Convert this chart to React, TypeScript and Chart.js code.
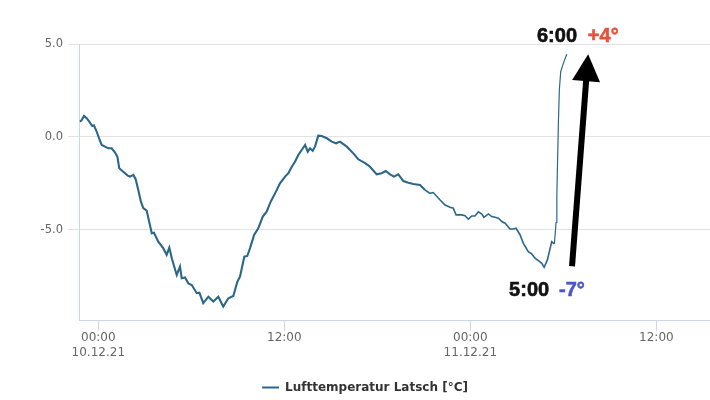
import React, { useEffect, useRef } from "react";
import { Chart, registerables } from "chart.js";

Chart.register(...registerables);

// ---- data ----
const seriesName = "Lufttemperatur Latsch [°C]";
// hours since 10.12.21 00:00
const sampleHours = [
  -1.18, -1.07, -0.92, -0.75, -0.54, -0.39, -0.28, -0.1, 0.05, 0.22, 0.43, 0.65, 0.86, 1.08, 1.23, 1.35,
  1.61, 1.9, 2.05, 2.26, 2.41, 2.58, 2.75, 2.9, 3.12, 3.45, 3.59, 3.87, 4.19, 4.41, 4.58, 4.74, 5.06,
  5.27, 5.38, 5.59, 5.81, 6.03, 6.35, 6.52, 6.77, 7.1, 7.42, 7.74, 8.06, 8.39, 8.71, 8.97, 9.14, 9.42,
  9.61, 9.79, 10.05, 10.32, 10.61, 10.86, 11.12, 11.46, 11.72, 12.05, 12.26, 12.48, 12.69, 12.9, 13.12,
  13.34, 13.51, 13.66, 13.83, 13.98, 14.19, 14.41, 14.74, 15.06, 15.34, 15.59, 16.03, 16.45, 16.77,
  17.21, 17.53, 17.96, 18.28, 18.54, 18.82, 19.08, 19.35, 19.68, 20.0, 20.32, 20.75, 21.08, 21.4,
  21.61, 22.05, 22.37, 22.69, 22.9, 23.08, 23.45, 23.66, 23.87, 24.09, 24.3, 24.52, 24.74, 24.88,
  25.16, 25.38, 25.59, 25.81, 26.03, 26.24, 26.56, 26.77, 26.95, 27.21, 27.42, 27.74, 27.96, 28.17,
  28.39, 28.61, 28.76, 28.97, 29.25, 29.42, 29.53, 29.58, 29.61, 29.68, 29.74, 29.83, 30.0, 30.22,
];
const tempC = [
  0.82, 0.91, 1.13, 1.01, 0.77, 0.59, 0.63, 0.28, -0.07, -0.43, -0.52, -0.61, -0.61, -0.84, -1.06, -1.68,
  -1.87, -2.08, -2.13, -2.04, -2.27, -2.85, -3.48, -3.83, -3.96, -5.18, -5.15, -5.63, -5.98, -6.34, -5.95,
  -6.52, -7.42, -6.97, -7.6, -7.56, -7.87, -7.96, -8.4, -8.37, -8.94, -8.59, -8.85, -8.59, -9.12, -8.67,
  -8.55, -7.78, -7.51, -6.44, -6.4, -5.98, -5.27, -4.91, -4.28, -4.02, -3.48, -2.94, -2.49, -2.13, -1.95,
  -1.6, -1.33, -0.97, -0.7, -0.43, -0.79, -0.61, -0.74, -0.52, 0.07, 0.05, -0.07, -0.25, -0.34, -0.25,
  -0.52, -0.88, -1.2, -1.41, -1.6, -2.01, -1.95, -1.83, -2.01, -2.13, -2.01, -2.37, -2.46, -2.53, -2.58,
  -2.85, -3.03, -2.99, -3.39, -3.66, -3.78, -3.83, -4.19, -4.19, -4.23, -4.42, -4.25, -4.25, -4.02,
  -4.14, -4.32, -4.14, -4.28, -4.32, -4.37, -4.55, -4.64, -4.95, -4.95, -4.91, -5.27, -5.72, -6.17,
  -6.29, -6.52, -6.65, -6.79, -7.01, -6.61, -5.63, -5.75, -4.6, -3.2, -1.95, 0.74, 2.53, 3.51, 3.96, 4.45,
];
const xTickHours = [0, 12, 24, 36];
const xTickLabels: (string | string[])[] = [["00:00", "10.12.21"], "12:00", ["00:00", "11.12.21"], "12:00"];
const yTicks = [-5, 0, 5];
const xRange = [-1.245, 39.46];
const yRange = [-9.88, 5];

// annotations (data coordinates: hours, °C)
const arrowFrom = { h: 30.56, t: -6.95 };
const arrowTo = { h: 31.6, t: 4.45 };
const topNote = { time: "6:00", value: "+4°", h: 28.3, hValue: 31.58, t: 5.12 };
const bottomNote = { time: "5:00", value: "-7°", h: 26.5, hValue: 29.72, t: -8.55 };

const LINE_COLOR = "#2b6789";

const annotationPlugin = {
  id: "notes",
  afterDraw(chart: any) {
    const { ctx } = chart;
    const xs = chart.scales.x;
    const ys = chart.scales.y;
    ctx.save();
    // arrow
    const x0 = xs.getPixelForValue(arrowFrom.h);
    const y0 = ys.getPixelForValue(arrowFrom.t);
    const x1 = xs.getPixelForValue(arrowTo.h);
    const y1 = ys.getPixelForValue(arrowTo.t);
    const dx = x1 - x0;
    const dy = y1 - y0;
    const len = Math.hypot(dx, dy);
    const ux = dx / len;
    const uy = dy / len;
    const headLen = 27;
    const headHalf = 14;
    const bx = x1 - ux * headLen;
    const by = y1 - uy * headLen;
    ctx.strokeStyle = "#000";
    ctx.lineWidth = 6;
    ctx.lineCap = "butt";
    ctx.beginPath();
    ctx.moveTo(x0, y0);
    ctx.lineTo(bx + ux * 2, by + uy * 2);
    ctx.stroke();
    ctx.fillStyle = "#000";
    ctx.beginPath();
    ctx.moveTo(x1, y1);
    ctx.lineTo(bx - uy * headHalf, by + ux * headHalf);
    ctx.lineTo(bx + uy * headHalf, by - ux * headHalf);
    ctx.closePath();
    ctx.fill();

    // labels
    ctx.font = "bold 20px 'Liberation Sans', Arial, sans-serif";
    ctx.textBaseline = "alphabetic";
    ctx.textAlign = "left";
    ctx.lineWidth = 0.6;
    const drawNote = (n: any, color: string) => {
      const y = ys.getPixelForValue(n.t);
      const xa = xs.getPixelForValue(n.h);
      const xb = xs.getPixelForValue(n.hValue);
      ctx.fillStyle = "#111";
      ctx.strokeStyle = "#111";
      ctx.fillText(n.time, xa, y);
      ctx.strokeText(n.time, xa, y);
      ctx.fillStyle = color;
      ctx.strokeStyle = color;
      ctx.fillText(n.value, xb, y);
      ctx.strokeText(n.value, xb, y);
    };
    drawNote(topNote, "#e5533c");
    drawNote(bottomNote, "#4b55cf");
    ctx.restore();
  },
};

export default function App() {
  const ref = useRef<HTMLCanvasElement | null>(null);
  useEffect(() => {
    if (!ref.current) return;
    const chart = new Chart(ref.current, {
      type: "line",
      data: {
        datasets: [
          {
            label: seriesName,
            data: sampleHours.map((h, i) => ({ x: h, y: tempC[i] })),
            borderColor: LINE_COLOR,
            backgroundColor: LINE_COLOR,
            borderWidth: 2,
            pointRadius: 0,
            tension: 0,
            fill: false,
            segment: {
              borderWidth: (c: any) => (c.p0.parsed.x >= 29.4 ? 1.2 : c.p0.parsed.x >= 21 ? 1.6 : 2.1),
            },
          },
        ],
      },
      options: {
        animation: false,
        responsive: true,
        maintainAspectRatio: false,
        layout: { padding: { top: 44, right: 0, bottom: 0, left: 20 } },
        plugins: {
          tooltip: { enabled: false },
          legend: {
            position: "bottom",
            align: "center",
            maxHeight: 22,
            labels: {
              usePointStyle: true,
              pointStyle: "line",
              pointStyleWidth: 17,
              padding: 3.5,
              color: "#333",
              font: { family: "'DejaVu Sans', sans-serif", size: 12, weight: "bold" },
            },
          },
        },
        scales: {
          x: {
            type: "linear",
            min: xRange[0],
            max: xRange[1],
            afterBuildTicks: (s: any) => {
              s.ticks = xTickHours.map((v) => ({ value: v }));
            },
            afterFit: (s: any) => {
              s.height = 57.3;
            },
            grid: { display: true, drawOnChartArea: false, drawTicks: true, tickLength: 10, color: "#ccd6eb" },
            border: { display: true, color: "#ccd6eb", width: 1 },
            ticks: {
              autoSkip: false,
              maxRotation: 0,
              padding: -1,
              color: "#666",
              font: { family: "'DejaVu Sans', sans-serif", size: 12, lineHeight: 1.3 },
              callback: (v: any) => xTickLabels[xTickHours.indexOf(Number(v))] ?? "",
            },
          },
          y: {
            type: "linear",
            min: yRange[0],
            max: yRange[1],
            afterBuildTicks: (s: any) => {
              s.ticks = yTicks.map((v) => ({ value: v }));
            },
            afterFit: (s: any) => {
              s.width = 59;
            },
            grid: { color: "#e3e3e3", tickLength: 11, lineWidth: 1 },
            border: { display: true, color: "#ccd6eb", width: 1 },
            ticks: {
              padding: 5,
              color: "#666",
              font: { family: "'DejaVu Sans', sans-serif", size: 11.5 },
              callback: (v: any) => Number(v).toFixed(1),
            },
          },
        },
      },
      plugins: [annotationPlugin],
    } as any);
    return () => chart.destroy();
  }, []);

  return (
    <div style={{ position: "fixed", left: 0, top: 0, width: 710, height: 400, background: "#fff" }}>
      <canvas ref={ref} />
    </div>
  );
}
